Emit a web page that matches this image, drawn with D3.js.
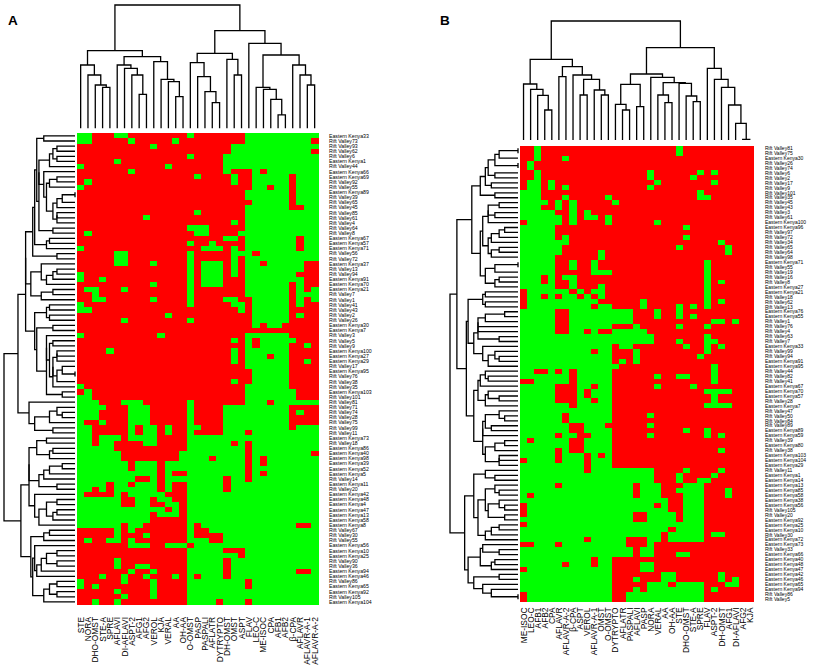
<!DOCTYPE html>
<html><head><meta charset="utf-8">
<script src="https://cdn.jsdelivr.net/npm/d3@7/dist/d3.min.js"></script>
<style>body{margin:0;background:#fff}svg{display:block}</style>
</head><body>
<svg id="chart" width="814" height="669"></svg>
<script>
// ---------- DATA ----------
const colsA = ["STE","NORA","DHO-OMST","STE-A","SPRE","AFLAVI","DI-AFLAVI","ASPT-2","AFG1","AFG2","VEROL","KJA","VERAL","AA","OH-AA","O-OMST","PASP","PASPALI","AFLATR","DYTRYPTO","DH-OMST","OMST","ASPT","FLAV","LEO-C","ME-ISOC","CPA","AFB1","AFB2","β-CPA","AFLAVR","AFLAVR-A-1","AFLAVR-A-2"];
const colsB = ["ME-ISOC","LEO-C","AFB1","AFB2","CPA","AFLAVR","AFLAVR-A-2","β-CPA","ASPT","VEROL","AFLAVR-A-1","OMST","O-OMST","DYTRYPTO","AFLATR","PASPALI","AFLAVI","PASP","NORA","VERAL","AA","OH-AA","STE","DHO-OMST","STE-A","SPRE","FLAV","ASPT-2","DH-OMST","AFG1","DI-AFLAVI","AFG2","KJA"];

const rowsA = ["Eastern Kenya33","Rift Valley73","Rift Valley93","Rift Valley62","Rift Valley6","Eastern Kenya1","Rift Valley44","Eastern Kenya66","Eastern Kenya69","Rift Valley92","Rift Valley55","Eastern Kenya89","Rift Valley39","Rift Valley65","Rift Valley45","Rift Valley85","Rift Valley61","Rift Valley4","Rift Valley64","Rift Valley8","Eastern Kenya67","Eastern Kenya57","Eastern Kenya71","Rift Valley56","Rift Valley72","Eastern Kenya37","Rift Valley13","Rift Valley94","Eastern Kenya91","Eastern Kenya70","Eastern Kenya21","Rift Valley7","Rift Valley1","Rift Valley41","Rift Valley43","Rift Valley2","Rift Valley26","Eastern Kenya30","Eastern Kenya7","Rift Valley3","Rift Valley5","Rift Valley9","Eastern Kenya100","Eastern Kenya27","Eastern Kenya29","Rift Valley17","Eastern Kenya95","Rift Valley76","Rift Valley38","Rift Valley35","Eastern Kenya103","Rift Valley101","Rift Valley81","Rift Valley71","Rift Valley74","Rift Valley28","Rift Valley75","Rift Valley99","Rift Valley11","Eastern Kenya73","Rift Valley18","Eastern Kenya86","Eastern Kenya40","Eastern Kenya98","Eastern Kenya39","Eastern Kenya52","Eastern Kenya5","Rift Valley14","Eastern Kenya11","Rift Valley20","Eastern Kenya42","Eastern Kenya48","Eastern Kenya4","Eastern Kenya47","Eastern Kenya13","Eastern Kenya58","Eastern Kenya8","Rift Valley67","Rift Valley30","Rift Valley55","Eastern Kenya56","Eastern Kenya10","Eastern Kenya25","Rift Valley90","Rift Valley36","Eastern Kenya94","Eastern Kenya46","Rift Valley86","Eastern Kenya65","Eastern Kenya92","Rift Valley105","Eastern Kenya104"];

const rowsB = ["Rift Valley81","Rift Valley75","Eastern Kenya30","Rift Valley26","Rift Valley74","Rift Valley6","Rift Valley2","Rift Valley17","Rift Valley9","Rift Valley101","Rift Valley35","Rift Valley45","Rift Valley43","Rift Valley3","Rift Valley61","Eastern Kenya100","Eastern Kenya96","Rift Valley97","Rift Valley72","Rift Valley34","Rift Valley65","Rift Valley64","Rift Valley98","Eastern Kenya71","Rift Valley55","Rift Valley19","Rift Valley16","Rift Valley8","Eastern Kenya27","Eastern Kenya21","Rift Valley18","Rift Valley62","Rift Valley13","Eastern Kenya76","Eastern Kenya55","Rift Valley1","Rift Valley76","Rift Valley4","Rift Valley63","Rift Valley7","Eastern Kenya33","Rift Valley99","Rift Valley94","Eastern Kenya91","Eastern Kenya95","Rift Valley44","Rift Valley82","Rift Valley41","Eastern Kenya67","Eastern Kenya70","Eastern Kenya57","Rift Valley28","Eastern Kenya7","Rift Valley47","Rift Valley50","Rift Valley84","Rift Valley89","Eastern Kenya89","Eastern Kenya59","Rift Valley39","Eastern Kenya80","Rift Valley38","Eastern Kenya103","Eastern Kenya104","Eastern Kenya29","Rift Valley11","Eastern Kenya1","Eastern Kenya14","Eastern Kenya13","Eastern Kenya85","Eastern Kenya58","Eastern Kenya38","Eastern Kenya56","Rift Valley105","Rift Valley20","Eastern Kenya92","Eastern Kenya25","Eastern Kenya10","Rift Valley30","Eastern Kenya72","Eastern Kenya73","Rift Valley33","Eastern Kenya66","Eastern Kenya40","Eastern Kenya48","Eastern Kenya47","Eastern Kenya42","Eastern Kenya46","Eastern Kenya65","Eastern Kenya94","Rift Valley86","Rift Valley5"];

// 1 = present (red), 0 = absent (green); one string per row, columns in display order
const cellsA = [
"00111001111 11110111111 10000000000","00111110111 11011111111 10000000001","11111111110 11111111110 00000000000","11111111111 11111111110 00000000001",
"11111111111 11110111100 00000000000","11111011111 11111111100 00000000000","01111111111 10111111100 00000000000","11111110111 11111111101 11010000000",
"11111111111 11111011110 11000001000","10111111111 11111111110 11000001000","01111111111 11111111111 11001001000","11111111111 11111111111 10000001000",
"11111111111 11111111111 10000001000","11111111111 11111111111 11000001000","11111111111 11111111111 10000001100","11111111111 11111011111 10000000000",
"11111111101 11111111111 10000000000","11111111111 11111111110 10000000000","11111111111 11110001111 10000000000","10111111111 11111001111 00000000000",
"11111111111 11111111100 10000000100","11111111111 11110110111 10000000100","01111111111 11111100010 10000000100","11111001111 11110111110 00100000000",
"11111001111 11110111110 10000000000","11111001110 11110100010 10010000011","11111111111 11110100010 10000000011","01111111111 11110100010 10000000111",
"01101111111 11110100011 10000000011","11111111110 11110100011 10000001011","10011101111 11110111111 10000001010","11011111111 11110111111 10000001000",
"11001111110 11110111100 11000001010","01111111111 11110111110 01000001011","00111111111 11111111111 01000001111","11111111111 10111111111 11000001011",
"11111101111 11110111111 11000001111","11111111111 11111111111 11010011111","11111111111 11111111111 11111111111","01111111111 01111111111 10000001111",
"11111111111 11111111110 10100000111","11111111111 11111111111 10100001101","11110111111 11111111110 10000001111","11111111111 11111111110 10001001111",
"11111111111 11111111110 10000001101","11111111111 11111111111 10000001111","11111111111 11111111111 11000001111","11111111111 11111111111 11000001111",
"11111111111 11111111110 11000001111","01111111111 11111111111 10000001111","10111111111 11111111111 10000000111","00111111111 11111111111 10000000111",
"00011100011 11110111111 10001000000","00001110001 11110111100 00000001111","00011110001 11110111100 00000001011","00011110001 11110111100 00000001111",
"01101110001 11110111100 00000001111","00111110100 10110011100 00000001000","00111110100 10110111100 01000000000","00100010000 11110000000 00000000000",
"00100111100 11110000001 01000000000","00000111111 11110000000 01000000000","00000011111 11100000000 01000000001","00000011111 11100001000 01010000000",
"00000001000 10000000000 01010000000","00000001000 10000000000 01000000000","00000000000 10110000000 01010000000","00000000110 10000000010 01000000000",
"00001001000 10110000010 00000000000","00101000000 10110000010 00000000000","01111010000 01110000000 00000000000","00000011001 00110000000 00000000000",
"00000011001 10010000000 00000000000","00000000000 01010000000 00000000000","00000000001 00010000000 00000000000","00000000001 11110000000 00000000000",
"00000010011 11110100000 00000000110","11111010111 11110110000 00000000000","11111011101 11110111100 00000000000","10110010111 11110001100 00000000000",
"11111110001 10001000000 00000000000","11111111111 11110000011 10000000000","11111111111 11110000000 10000000000","11111011111 11110000010 00000000000",
"11111011001 11110000010 00000000000","11111110110 11110000010 00000000110","11101101101 11010100010 00000000000","01111101110 11110000000 01000000000",
"01011111110 11110000000 01000000000","11111011110 11110000000 00000000000","11111101110 11110000000 00000000000","11011011111 11110000100 01000000000"
];

const cellsB = [
"11011111111 11111111111 01111111111","11011111111 11111111111 01111111111","11011101111 11111111111 11111111111","10111111111 11111111111 11111111111",
"10111111111 11111111111 11111111111","11011111111 11111110111 11101011111","11011111111 11111110111 11011111111","10010111111 11111111011 11111011111",
"10010101111 11111110111 11111111111","00011111111 11111111111 11101111111","00011101111 10111111111 11100111111","00001010111 11011111111 11111111111",
"00011010111 11111111111 11111111111","00000110101 11111111111 11111111111","00000010100 10111111111 11111111111","10000010111 10111111011 11111111111",
"00000111111 11111111111 10111111111","00000111111 11111111111 11111111111","00000101111 11111111111 10111111111","00000001111 11111111111 11111101111",
"00000011111 11111111111 01111110111","00000011111 01111111111 11111110111","00000111111 01111111111 11111111111","00000110110 11111111111 11110111111",
"00000110110 11111111111 11110111111","00000111110 00111111111 11110111111","00010100111 11111111111 11110111111","00010110111 11111111111 11110101111",
"00000110111 01111111111 11110111111","10000001010 01111111111 11110111111","10010100101 01111111111 11110111111","10000000000 11111101111 11110101111",
"10000000001 00111101111 01010111111","00000110000 00000111011 01111111111","00000110000 00000111011 01011111111","00000110000 00000111111 11111001011",
"00000110000 00111011111 01110111111","00000110010 11000001111 11111111111","00000000000 00000000111 11110111111","00000000000 00000000111 01110011111",
"00000000000 00100111111 10110101111","00000000001 00111011111 11110111111","00000000000 00111011111 11101111111","00000000000 00101011111 11111111111",
"00000000000 00011111111 11111011111","00110101000 00111111111 11111011111","00000001000 00111111011 00111011111","11000001000 00111111111 11111011111",
"00000111001 00111111011 11011111111","00000111010 00111111111 11110000111","00000111010 00111111111 11111011111","00000111001 00111111111 11111011111",
"00000001000 00111111111 11110000111","00000000000 00111111111 11111111111","00000010000 00111110111 11111111111","00000010000 00111111111 11111111111",
"00000001100 01111110111 11111111111","00000001100 00111111111 10110111111","00000100110 00111110111 11110101111","01000001100 00111111111 11111111111",
"00000001100 00111111111 11111111111","00000101100 00111111111 11111101111","00000100010 10111111111 11111111111","10000100010 00111111111 11111111111",
"00000000010 00111111111 11111111111","00000000010 00000000111 10111101111","00000000000 00000000111 01111011111","00000000000 00000000111 01100111111",
"00000100000 00000100011 10001111111","00000000000 00000100011 00001110111","01000000000 00000100011 10001110111","00000000000 00000000001 10001111111",
"10000000000 00000000101 10001111111","10000000000 00000000001 10001111111","10000000000 00000110000 10001111111","00000000000 00000110000 10001111111",
"10000000000 00000000000 00001111111","00000000000 00000000001 00001111111","00000000000 00000000010 00001001111","00000000010 00001110010 00001111111",
"11000100000 00001110111 11111111111","00000000000 00000100111 11111111111","00000000000 00000100111 00111111111","00000000001 00111111111 11111111111",
"00000010001 00111100111 11111111111","10000000000 00111100111 11111111111","00000000000 00111111100 11111101111","00000000000 00111011100 11111101011",
"00000000000 00111110001 00001110011","00000000000 00111010000 00001011111","10000000000 00110000000 00001111111","10000000000 00110000000 00001111111"
];

// column dendrograms: [left, right, mergeHeight]; leaves are column indices
const colTreeA = [
  [[0,[1,[2,[3,4,123],130],160],190],
   [[5,[6,[7,[8,9,102],160],180],190],[10,[11,[12,[13,14,95],140],147],200],215],233],
  [[[15,[16,[17,[18,19,77],110],155],197],[20,[21,22,160],207],225],
   [23,[[24,[25,[26,[27,28,40],87],117],123],[29,[30,[31,32,130],160],190],220],255],293],
  370];
const colTreeB = [
  [[0,[1,[2,[3,4,90],134],152],168],
   [[5,6,190],[7,[[8,9,135],[10,[11,12,135],150],182],195],220],242],
  [[[[13,[14,15,90],107],[16,17,100],167],
    [18,[[19,[20,21,112],135],[22,[23,[24,25,115],132],170],172],188],198],
   [26,[27,[28,[29,[30,[31,32,2],50],105],158],182],215],277],
  357];

// ---------- HELPERS ----------
const RED = "#ff0000", GREEN = "#00ff00";
const parse = s => s.replace(/ /g, "").split("").map(Number);
const FONT = "'Liberation Sans', Arial, Helvetica, sans-serif";
const svg = d3.select("#chart");

// row dendrogram: hierarchical clustering (euclidean, complete linkage) constrained to the displayed row order
function rowTree(mat) {
  const D = mat.map(a => mat.map(b => Math.sqrt(d3.sum(a, (v, k) => Math.abs(v - b[k])))));
  let cl = mat.map((_, i) => ({ node: i, m: [i], h: 0 }));
  while (cl.length > 1) {
    let best = -1, bd = Infinity;
    for (let k = 0; k < cl.length - 1; k++) {
      let d = 0;
      for (const i of cl[k].m) for (const j of cl[k + 1].m) if (D[i][j] > d) d = D[i][j];
      if (d < bd - 1e-9) { bd = d; best = k; }
    }
    const a = cl[best], b = cl[best + 1];
    const h = Math.max(bd, a.h, b.h);
    cl.splice(best, 2, { node: [a.node, b.node, h], m: a.m.concat(b.m), h });
  }
  return cl[0].node;
}

function drawTree(g, tree, pos, hs, orient) {
  const root = d3.hierarchy(tree, d => Array.isArray(d) ? [d[0], d[1]] : null);
  root.eachAfter(n => {
    if (!n.children) { n.p = pos(n.data); n.h = 0; }
    else { n.p = (n.children[0].p + n.children[1].p) / 2; n.h = n.data[2]; }
  });
  g.selectAll("path").data(root.descendants().filter(n => n.children)).join("path")
    .attr("fill", "none").attr("stroke", "#000").attr("stroke-width", 1.3)
    .attr("d", n => {
      const [a, b] = n.children;
      return orient === "top"
        ? `M${a.p},${hs(a.h)}V${hs(n.h)}H${b.p}V${hs(b.h)}`
        : `M${hs(a.h)},${a.p}H${hs(n.h)}V${b.p}H${hs(b.h)}`;
    });
  return root;
}

function panel(cfg) {
  const mat = cfg.cells.map(parse);
  const nR = mat.length, nC = cfg.cols.length;
  const x = d3.scaleBand().domain(d3.range(nC)).range([cfg.x0, cfg.x1]).padding(0);
  const y = d3.scaleBand().domain(d3.range(nR)).range([cfg.y0, cfg.y1]).padding(0);
  const g = svg.append("g");

  const cells = [];
  mat.forEach((r, i) => r.forEach((v, j) => cells.push({ i, j, v })));
  g.append("g").attr("shape-rendering", "crispEdges").selectAll("rect").data(cells).join("rect")
    .attr("x", d => x(d.j)).attr("y", d => y(d.i))
    .attr("width", x.bandwidth() + 0.4).attr("height", y.bandwidth() + 0.4)
    .attr("fill", d => d.v ? RED : GREEN);

  const hc = d3.scaleLinear().domain([0, cfg.colTree[2]]).range([cfg.colBase, cfg.colTop]);
  drawTree(g.append("g"), cfg.colTree, j => x(j) + x.bandwidth() / 2, hc, "top");

  const rt = rowTree(mat);
  const hr = d3.scaleLinear().domain([0, rt[2]]).range([cfg.rowBase, cfg.rowTop]);
  drawTree(g.append("g"), rt, i => y(i) + y.bandwidth() / 2, hr, "left");

  g.append("g").selectAll("text").data(cfg.rows.slice(0, nR)).join("text")
    .attr("x", cfg.labX).attr("y", (d, i) => y(i) + y.bandwidth() / 2)
    .attr("dy", "0.35em").attr("font-family", FONT).attr("font-size", cfg.rowFont)
    .attr("fill", "#000").text(d => d);

  g.append("g").selectAll("text").data(cfg.cols).join("text")
    .attr("transform", (d, j) => `translate(${x(j) + x.bandwidth() / 2},${cfg.colLabY}) rotate(-90)`)
    .attr("dy", "0.36em").attr("text-anchor", "end")
    .attr("font-family", FONT).attr("font-size", 8.4).attr("fill", "#000").text(d => d);

  svg.append("text").attr("x", cfg.letX).attr("y", 25).attr("font-family", FONT)
    .attr("font-weight", "bold").attr("font-size", 13.5).text(cfg.letter);
}

panel({ letter: "A", letX: 8, cells: cellsA, cols: colsA, rows: rowsA, colTree: colTreeA,
  x0: 77, x1: 318.3, y0: 133.3, y1: 604.5, colBase: 128.3, colTop: 5,
  rowBase: 75, rowTop: 4, labX: 329, rowFont: 5.2, colLabY: 617 });

panel({ letter: "B", letX: 440, cells: cellsB, cols: colsB, rows: rowsB, colTree: colTreeB,
  x0: 520, x1: 753.3, y0: 145.7, y1: 601.7, colBase: 140, colTop: 21,
  rowBase: 518, rowTop: 450, labX: 765, rowFont: 5, colLabY: 607.5 });
</script>
</body></html>
